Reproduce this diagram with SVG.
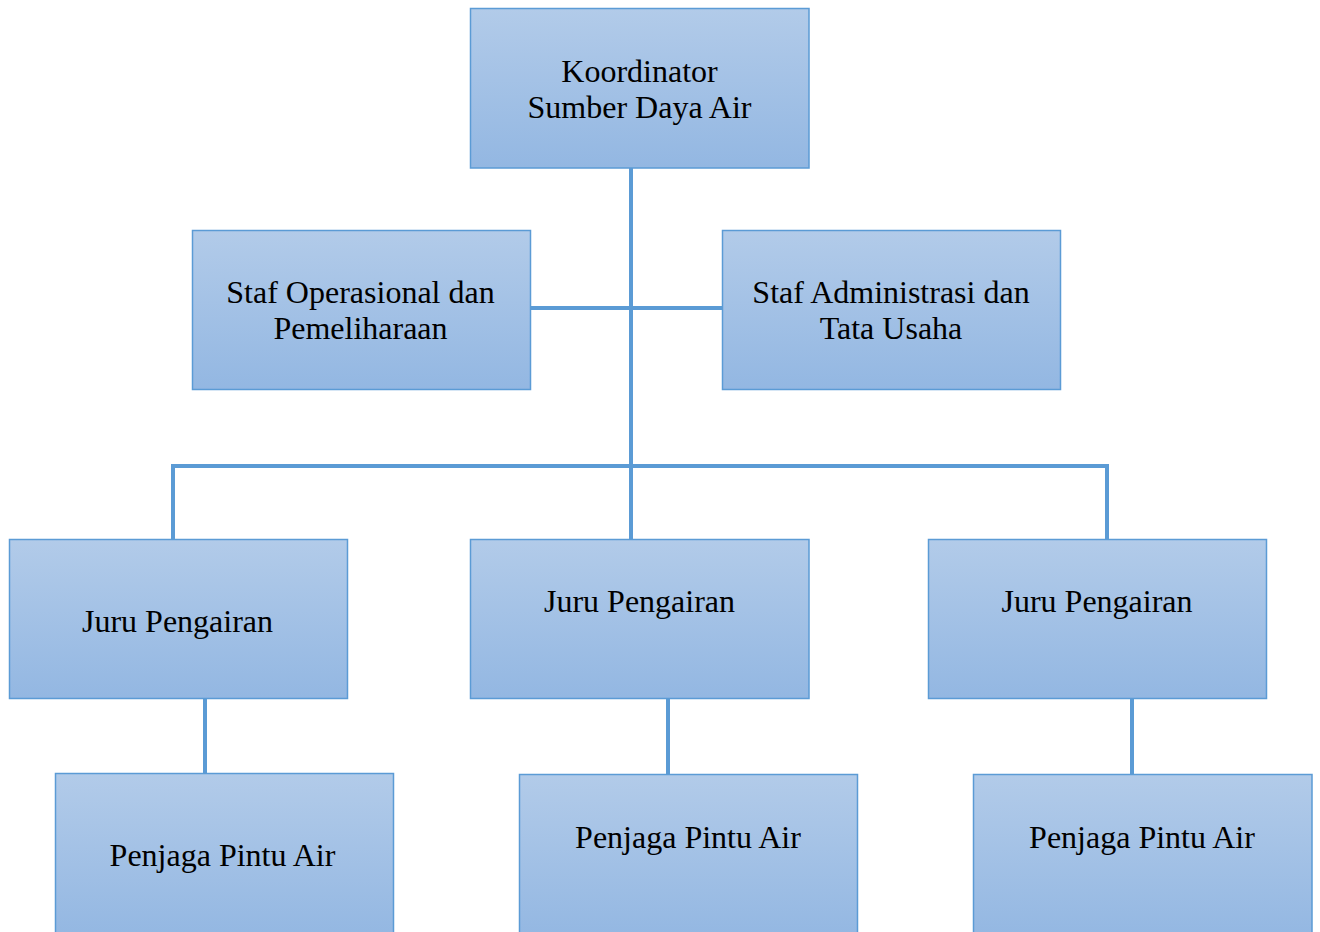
<svg xmlns="http://www.w3.org/2000/svg" width="1320" height="932" viewBox="0 0 1320 932">
<defs>
<linearGradient id="g" x1="0" y1="0" x2="0" y2="1">
<stop offset="0" stop-color="#b2cbe9"/>
<stop offset="1" stop-color="#93b7e2"/>
</linearGradient>
<style>
.box{fill:url(#g);stroke:#5b9bd5;stroke-width:1.5}
.t{font-family:"Liberation Serif","Times New Roman",serif;font-size:32px;fill:#000;text-anchor:middle}
.c{stroke:#5b9bd5;stroke-width:4;fill:none}
</style>
</defs>
<rect width="1320" height="932" fill="#fff"/>
<g id="connectors">
<line class="c" x1="631" y1="168" x2="631" y2="539"/>
<line class="c" x1="530" y1="308" x2="722" y2="308"/>
<polyline class="c" points="173,539 173,466 1107,466 1107,539"/>
<line class="c" x1="205" y1="699" x2="205" y2="773"/>
<line class="c" x1="668" y1="699" x2="668" y2="774"/>
<line class="c" x1="1132" y1="699" x2="1132" y2="774"/>
</g>
<g id="koordinator">
<rect class="box" x="470.5" y="8.5" width="338.5" height="159.5"/>
<text class="t" x="639.5" y="82">Koordinator</text>
<text class="t" x="639.5" y="118">Sumber Daya Air</text>
</g>
<g id="staf-operasional">
<rect class="box" x="192.5" y="230.5" width="338" height="159"/>
<text class="t" x="360.5" y="303">Staf Operasional dan</text>
<text class="t" x="360.5" y="339">Pemeliharaan</text>
</g>
<g id="staf-administrasi">
<rect class="box" x="722.5" y="230.5" width="338" height="159"/>
<text class="t" x="891" y="303">Staf Administrasi dan</text>
<text class="t" x="891" y="339">Tata Usaha</text>
</g>
<g id="juru-1">
<rect class="box" x="9.5" y="539.5" width="338" height="159"/>
<text class="t" x="177.5" y="632">Juru Pengairan</text>
</g>
<g id="juru-2">
<rect class="box" x="470.5" y="539.5" width="338.5" height="159"/>
<text class="t" x="639.5" y="612">Juru Pengairan</text>
</g>
<g id="juru-3">
<rect class="box" x="928.5" y="539.5" width="338" height="159"/>
<text class="t" x="1097" y="612">Juru Pengairan</text>
</g>
<g id="penjaga-1">
<rect class="box" x="55.5" y="773.5" width="338" height="165"/>
<text class="t" x="222.5" y="866">Penjaga Pintu Air</text>
</g>
<g id="penjaga-2">
<rect class="box" x="519.5" y="774.5" width="338" height="165"/>
<text class="t" x="688" y="848">Penjaga Pintu Air</text>
</g>
<g id="penjaga-3">
<rect class="box" x="973.5" y="774.5" width="338.5" height="165"/>
<text class="t" x="1142" y="848">Penjaga Pintu Air</text>
</g>
</svg>
